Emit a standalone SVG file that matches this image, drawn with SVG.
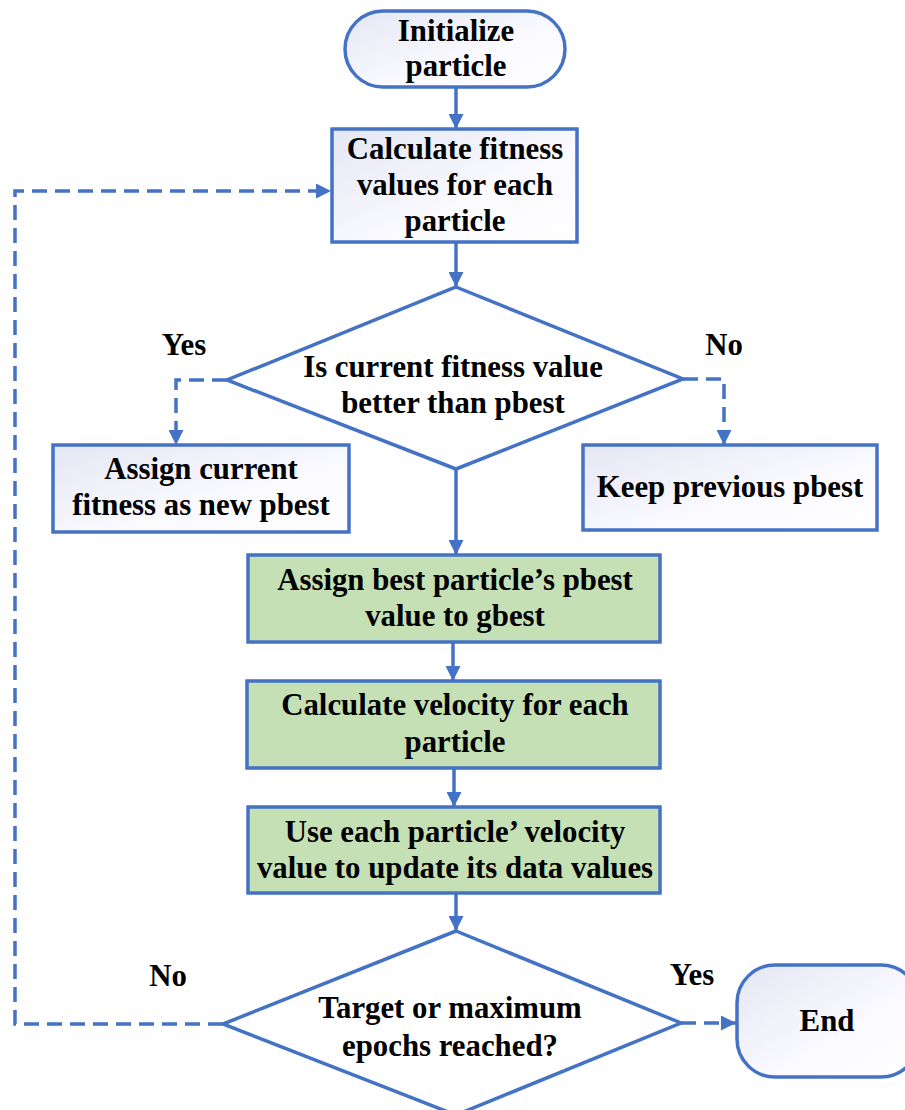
<svg xmlns="http://www.w3.org/2000/svg" width="905" height="1110" viewBox="0 0 905 1110">
<defs>
<linearGradient id="lg" x1="0" y1="0" x2="1" y2="1">
<stop offset="0" stop-color="#e4e6f3"/>
<stop offset="0.6" stop-color="#fafaff"/>
<stop offset="1" stop-color="#ffffff"/>
</linearGradient>
<marker id="ah" viewBox="0 0 10 10" refX="10" refY="5" markerWidth="15" markerHeight="15" markerUnits="userSpaceOnUse" orient="auto">
<path d="M0,0 L10,5 L0,10 z" fill="#4472c4"/>
</marker>
<style>
.box{fill:url(#lg);stroke:#4472c4;stroke-width:3.5}
.green{fill:#c5e0b4;stroke:#4472c4;stroke-width:3.5}
.dia{fill:#ffffff;stroke:#4472c4;stroke-width:3.5}
.t{font-family:"Liberation Serif","Times New Roman",serif;font-weight:bold;font-size:30.8px;fill:#000;text-anchor:middle}
.c{fill:none;stroke:#4472c4;stroke-width:3.5}
.d{stroke-dasharray:15 8}
</style>
</defs>
<rect width="905" height="1110" fill="#ffffff"/>
<g id="connectors">
<path class="c" d="M456,87 V129" marker-end="url(#ah)"/>
<path class="c" d="M456,242 V287" marker-end="url(#ah)"/>
<path class="c" d="M456,469 V555" marker-end="url(#ah)"/>
<path class="c" d="M453,642 V681" marker-end="url(#ah)"/>
<path class="c" d="M454,768 V807" marker-end="url(#ah)"/>
<path class="c" d="M456,893 V931" marker-end="url(#ah)"/>
<path class="c d" d="M227,380 H176 V445" marker-end="url(#ah)"/>
<path class="c d" d="M683,379 H724 V445" marker-end="url(#ah)"/>
<path class="c d" d="M223,1024 H15 V191 H331" marker-end="url(#ah)"/>
<path class="c d" d="M681,1023 H736" marker-end="url(#ah)"/>
<text class="t" x="184" y="355">Yes</text>
<text class="t" x="724" y="355">No</text>
<text class="t" x="168" y="986">No</text>
<text class="t" x="692" y="985">Yes</text>
</g>
<g id="n_init">
<rect class="box" x="345" y="11" width="220" height="76" rx="38"/>
<text class="t" x="456" y="41">Initialize</text>
<text class="t" x="456" y="76">particle</text>
</g>
<g id="n_calc">
<rect class="box" x="332" y="129" width="245" height="113"/>
<text class="t" x="455" y="159">Calculate fitness</text>
<text class="t" x="455" y="195">values for each</text>
<text class="t" x="455" y="231">particle</text>
</g>
<g id="n_dec1">
<polygon class="dia" points="456,287 683,379 456,469 227,380"/>
<text class="t" x="453" y="377">Is current fitness value</text>
<text class="t" x="453" y="413">better than pbest</text>
</g>
<g id="n_assign">
<rect class="box" x="53" y="445" width="296" height="87"/>
<text class="t" x="201" y="479">Assign current</text>
<text class="t" x="201" y="515">fitness as new pbest</text>
</g>
<g id="n_keep">
<rect class="box" x="583" y="445" width="294" height="85"/>
<text class="t" x="730" y="497">Keep previous pbest</text>
</g>
<g id="n_gbest">
<rect class="green" x="248" y="555" width="412" height="87"/>
<text class="t" x="455" y="590">Assign best particle’s pbest</text>
<text class="t" x="455" y="626">value to gbest</text>
</g>
<g id="n_vel">
<rect class="green" x="247" y="681" width="413" height="87"/>
<text class="t" x="455" y="715">Calculate velocity for each</text>
<text class="t" x="455" y="752">particle</text>
</g>
<g id="n_update">
<rect class="green" x="248" y="807" width="412" height="86"/>
<text class="t" x="455" y="842">Use each particle’ velocity</text>
<text class="t" x="455" y="878">value to update its data values</text>
</g>
<g id="n_dec2">
<polygon class="dia" points="456,931 681,1023 456,1115 223,1024"/>
<text class="t" x="450" y="1018">Target or maximum</text>
<text class="t" x="450" y="1056">epochs reached?</text>
</g>
<g id="n_end">
<rect class="box" x="737" y="965" width="182" height="112" rx="38"/>
<text class="t" x="827" y="1031">End</text>
</g>
</svg>
